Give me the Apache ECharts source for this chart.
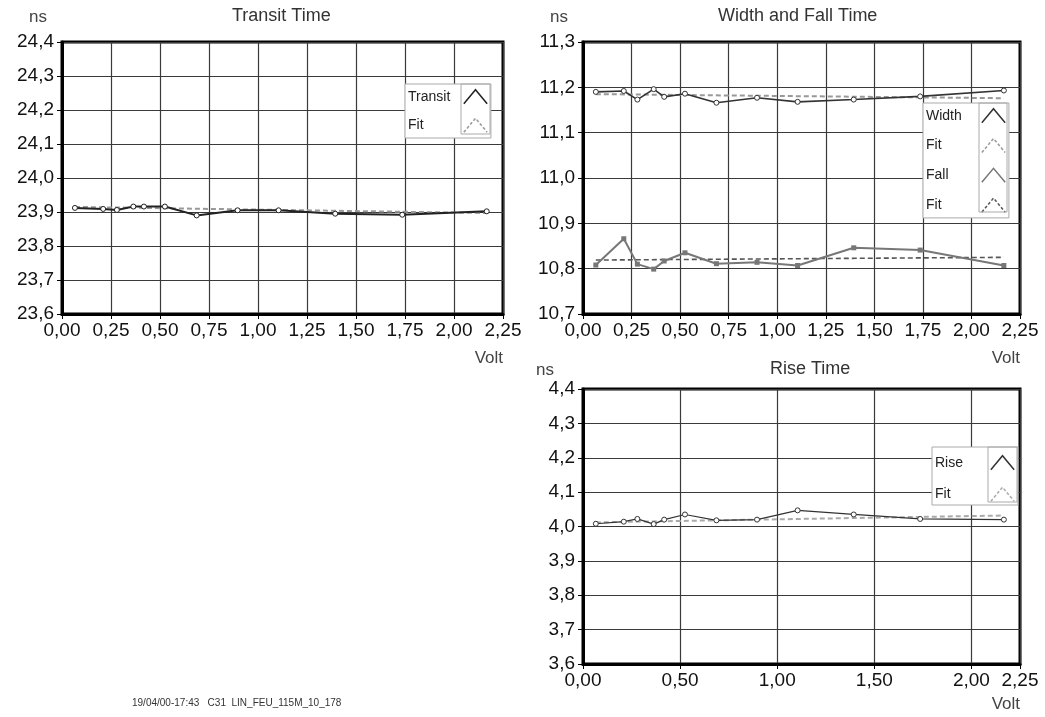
<!DOCTYPE html>
<html>
<head>
<meta charset="utf-8">
<script src="https://cdn.jsdelivr.net/npm/echarts@6/dist/echarts.min.js"></script>
<style>
html,body{margin:0;padding:0;background:#fff;}
#c{width:1045px;height:717px;}
</style>
</head>
<body>
<div id="c"></div>
<script>
// ---- data ----
const volts = [0.066, 0.21, 0.28, 0.364, 0.418, 0.525, 0.687, 0.896, 1.105, 1.394, 1.736, 2.167];
const transit = [23.912, 23.909, 23.906, 23.916, 23.916, 23.916, 23.890, 23.905, 23.905, 23.895, 23.892, 23.902];
const transitFit = [23.915, 23.897];
const widthT = [11.190, 11.192, 11.173, 11.196, 11.179, 11.186, 11.166, 11.177, 11.168, 11.173, 11.180, 11.193];
const widthFit = [11.185, 11.176];
const fall = [10.808, 10.866, 10.810, 10.799, 10.817, 10.835, 10.811, 10.814, 10.807, 10.846, 10.841, 10.807];
const fallFit = [10.819, 10.825];
const rise = [4.008, 4.014, 4.022, 4.007, 4.020, 4.035, 4.018, 4.020, 4.047, 4.035, 4.022, 4.020];
const riseFit = [4.012, 4.032];
const titles = ['Transit Time', 'Width and Fall Time', 'Rise Time'];
const yUnit = 'ns';
const xUnit = 'Volt';
const footer = '19/04/00-17:43   C31  LIN_FEU_115M_10_178';

// ---- build ----
const FONT = 'Liberation Sans, Arial, sans-serif';
const pairs = (xs, ys) => ys.map((v, i) => [xs[i], v]);
const fitX = [volts[0], volts[volts.length - 1]];

const chart = echarts.init(document.getElementById('c'), null, {renderer: 'canvas'});

const grids = [
  {left: 62, top: 42, width: 441, height: 272},
  {left: 583, top: 42, width: 437, height: 272},
  {left: 583, top: 389, width: 437, height: 275}
].map(g => Object.assign(g, {show: true, borderColor: '#000', borderWidth: 3, backgroundColor: '#fff'}));

function xAx(i, interval, padTop) {
  return {
    type: 'value', gridIndex: i, min: 0, max: 2.25, interval: interval,
    name: xUnit, nameLocation: 'end', nameGap: 0,
    nameTextStyle: {fontSize: 17, color: '#444', fontFamily: FONT, align: 'right', verticalAlign: 'top', padding: [padTop, 0, 0, 0]},
    axisLine: {show: true, lineStyle: {color: '#000', width: 3}},
    axisTick: {show: true, length: 5, lineStyle: {color: '#000', width: 1}},
    axisLabel: {fontSize: 19, color: '#111', fontFamily: FONT, margin: 7,
      formatter: v => v.toFixed(2).replace('.', ',')},
    splitLine: {show: true, lineStyle: {color: '#3a3a3a', width: 1.2}}
  };
}
function yAx(i, min, max, gap, padRight) {
  return {
    type: 'value', gridIndex: i, min: min, max: max, interval: 0.1,
    name: yUnit, nameLocation: 'end', nameGap: gap,
    nameTextStyle: {fontSize: 17, color: '#444', fontFamily: FONT, padding: [0, padRight, 0, 0]},
    axisLine: {show: true, lineStyle: {color: '#000', width: 3}},
    axisTick: {show: true, length: 5, lineStyle: {color: '#000', width: 1}},
    axisLabel: {fontSize: 19, color: '#111', fontFamily: FONT, margin: 8,
      formatter: v => v.toFixed(1).replace('.', ',')},
    splitLine: {show: true, lineStyle: {color: '#3a3a3a', width: 1.2}}
  };
}

function dataLine(name, i, ys, color, symbol, filled, width) {
  return {
    name: name, type: 'line', xAxisIndex: i, yAxisIndex: i,
    data: pairs(volts, ys), symbol: symbol, symbolSize: 5, z: 5,
    lineStyle: {color: color, width: width},
    itemStyle: filled ? {color: color} : {color: '#fff', borderColor: color, borderWidth: 1},
    emphasis: {disabled: true}
  };
}
function fitLine(name, i, ys, color, width) {
  return {
    name: name, type: 'line', xAxisIndex: i, yAxisIndex: i,
    data: pairs(fitX, ys), symbol: 'none', z: 4,
    lineStyle: {color: color, width: width, type: [5, 3]},
    itemStyle: {color: color},
    emphasis: {disabled: true}
  };
}

const ICON = 'path://M0,12 L10,0 L20,12';
function legItem(name, color, dashed) {
  return {name: name, icon: ICON,
    itemStyle: {color: 'rgba(0,0,0,0)', borderColor: color, borderWidth: 1.5, borderType: dashed ? [3, 2] : 'solid'}};
}
function legend(left, top, gap, padding, items) {
  return {
    orient: 'vertical', align: 'right', left: left, top: top, itemGap: gap,
    itemWidth: 25, itemHeight: 14, padding: padding, selectedMode: false,
    backgroundColor: '#fff', borderColor: '#aaa', borderWidth: 1,
    data: items,
    formatter: n => '{t|' + (n.endsWith('Fit') ? 'Fit' : n) + '}',
    textStyle: {fontSize: 14, color: '#222', fontFamily: FONT,
      rich: {t: {width: 50, align: 'left', fontSize: 14, color: '#222', fontFamily: FONT}}}
  };
}

const titleStyle = {fontSize: 18, fontWeight: 'normal', color: '#333', fontFamily: FONT};

const option = {
  animation: false,
  backgroundColor: '#fff',
  title: [
    {text: titles[0], left: 232, top: 7, textStyle: titleStyle, padding: 0},
    {text: titles[1], left: 718, top: 7, textStyle: titleStyle, padding: 0},
    {text: titles[2], left: 770, top: 360, textStyle: titleStyle, padding: 0},
    {text: footer, left: 132, top: 698, padding: 0, textStyle: {fontSize: 10, fontWeight: 'normal', color: '#333', fontFamily: FONT}}
  ],
  grid: grids,
  xAxis: [xAx(0, 0.25, 36), xAx(1, 0.25, 36), xAx(2, 0.5, 32)],
  yAxis: [yAx(0, 23.6, 24.4, 16, 48), yAx(1, 10.7, 11.3, 16, 48), yAx(2, 3.6, 4.4, 10, 76)],
  legend: [
    legend(405, 84, 13, [5, 3, 5, 3], [legItem('Transit', '#222', false), legItem('Transit Fit', '#999', true)]),
    legend(923, 103, 14.3, [5, 3, 5, 3], [legItem('Width', '#333', false), legItem('Width Fit', '#999', true),
                                            legItem('Fall', '#777', false), legItem('Fall Fit', '#555', true)]),
    legend(932, 447, 16, [8, 3, 3, 3], [legItem('Rise', '#333', false), legItem('Rise Fit', '#aaa', true)])
  ],
  graphic: [
    {type: 'rect', z: 100, shape: {x: 461, y: 84, width: 29, height: 50}, style: {fill: 'none', stroke: '#aaa', lineWidth: 1}},
    {type: 'rect', z: 100, shape: {x: 979, y: 103, width: 28, height: 109}, style: {fill: 'none', stroke: '#aaa', lineWidth: 1}},
    {type: 'rect', z: 100, shape: {x: 988, y: 447, width: 29, height: 55}, style: {fill: 'none', stroke: '#aaa', lineWidth: 1}}
  ],
  series: [
    fitLine('Transit Fit', 0, transitFit, '#999', 2),
    dataLine('Transit', 0, transit, '#222', 'circle', false, 2),
    fitLine('Width Fit', 1, widthFit, '#999', 2),
    dataLine('Width', 1, widthT, '#333', 'circle', false, 1.6),
    fitLine('Fall Fit', 1, fallFit, '#555', 1.6),
    dataLine('Fall', 1, fall, '#777', 'rect', true, 2),
    fitLine('Rise Fit', 2, riseFit, '#aaa', 2),
    dataLine('Rise', 2, rise, '#333', 'circle', false, 1.2)
  ]
};
chart.setOption(option);
</script>
</body>
</html>
